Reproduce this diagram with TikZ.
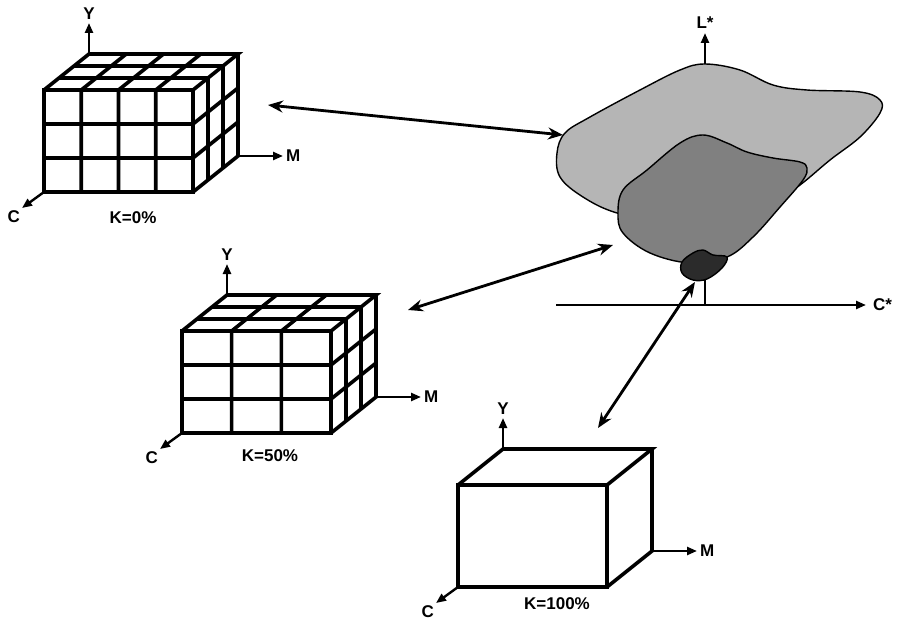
\documentclass[tikz,border=0pt]{standalone}
\usepackage{fontspec}
\setmainfont{Liberation Sans}
\usetikzlibrary{arrows.meta}

\definecolor{gamutlight}{gray}{0.71}
\definecolor{gamutmid}{gray}{0.50}
\definecolor{gamutdark}{gray}{0.17}

\begin{document}
\begin{tikzpicture}
          [x=1pt,y=-1pt,
          font=\fontsize{17}{19}\selectfont\bfseries,
          cubeline/.style={line width=3.6pt,line join=miter},
          axis/.style={line width=2.4pt,-{Triangle[length=10pt,width=8pt]}},
          link/.style={line width=2.8pt,{Stealth[length=15pt,width=12pt,inset=5pt]}-{Stealth[length=15pt,width=12pt,inset=5pt]}},
          gamut/.style={draw=black,line width=1.4pt},
          % box with its Y, M, C axes; argument = number of columns (0 = no grid)
          cmybox/.pic={
            \coordinate (-ftl) at (0,0);
            \coordinate (-fbl) at (0,102);
            \coordinate (-btl) at (45,-36);
            \coordinate (-bbr) at (194,66);
            \ifnum#1>0
              \pgfmathtruncatemacro\ncol{#1-1}
              \foreach \i in {1,...,\ncol}
                \draw[cubeline] ({149*\i/#1+45},-36) -- ({149*\i/#1},0) -- ({149*\i/#1},102);
              \foreach \k in {1,2}
                \draw[cubeline] (0,{34*\k}) -- (149,{34*\k}) -- (194,{34*\k-36});
              \foreach \j in {1,2}
                \draw[cubeline] ({15*\j},{-12*\j}) -- ({149+15*\j},{-12*\j}) -- ({149+15*\j},{102-12*\j});
            \fi
            \draw[cubeline] (-ftl) rectangle (149,102);
            \draw[cubeline] (-ftl) -- (-btl) -- (194,-36) -- (149,0);
            \draw[cubeline] (194,-36) -- (-bbr) -- (149,102);
            \draw[axis] (-btl) -- ++(0,-31) coordinate (-ytip) node[above,inner sep=2pt] (-ylab) {Y};
            \draw[axis] (-bbr) -- ++(45,0) coordinate (-mtip) node[right,inner sep=2pt] (-mlab) {M};
            \draw[axis] (-fbl) -- ++(-22,16) coordinate (-ctip) node[below left,inner sep=1pt] (-clab) {C};
          }]

          \useasboundingbox (0,0) rectangle (907,623);

          % the three boxes
          \pic (k0) at (44,90) {cmybox=4};
          \pic (k50) at (182,331) {cmybox=3};
          \pic (k100) at (458,485) {cmybox=0};

          \node (k0lab) at (133,218) {K=0\%};
          \node (k50lab) at (270,456) {K=50\%};
          \node (k100lab) at (557,604) {K=100\%};

          % L*C* plane
          \coordinate (origin) at (705,305);
          \coordinate (cstart) at (556,305);
          \draw[axis] (origin) -- (705,33) coordinate (ltip) node[above,inner sep=3pt] (llab) {L*};
          \draw[axis] (cstart) -- (866,305) coordinate (cstip) node[right,inner sep=6pt] (cslab) {C*};

          \draw[gamut,fill=gamutlight] plot[smooth cycle,tension=0.6] coordinates
            {(705,64) (740,70) (773,85) (807,90) (860,92) (880,100) (880,113) (860,137)
             (830,160) (800,185) (770,205) (730,225) (673,224) (617,213) (583,197)
             (560,177) (557,153) (565,133) (590,117) (640,90) (680,70)};
          \draw[gamut,fill=gamutmid] plot[smooth cycle,tension=0.6] coordinates
            {(703,135) (727,143) (747,152) (773,158) (800,162) (807,168) (803,180)
             (780,207) (753,237) (727,257) (690,263) (650,253) (623,233) (618,213)
             (623,190) (647,170) (680,143)};
          \draw[gamut,fill=gamutdark] plot[smooth cycle,tension=0.6] coordinates
            {(682,262) (693,253) (703,250) (713,255) (727,257) (722,268) (707,279)
             (693,280) (682,273)};

          % links between boxes and gamuts
          \coordinate (l0a) at (268,105);
          \coordinate (l0b) at (563,135);
          \coordinate (l50a) at (408,310);
          \coordinate (l50b) at (613,245);
          \coordinate (l100a) at (598,428);
          \coordinate (l100b) at (695,282);

          \draw [link] (l0a) -- (l0b);
          \draw [link] (l50a) -- (l50b);
          \draw [link] (l100a) -- (l100b);

\end{tikzpicture}
\end{document}
